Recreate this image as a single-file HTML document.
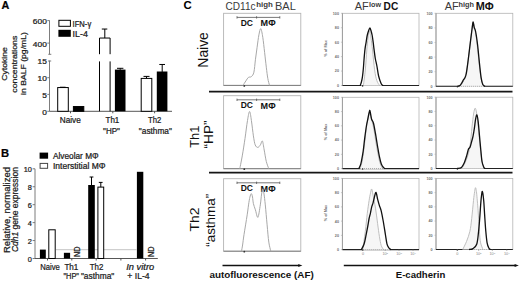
<!DOCTYPE html>
<html><head><meta charset="utf-8"><style>
html,body{margin:0;padding:0;background:#fff;width:520px;height:281px;overflow:hidden}
svg{display:block}
text{font-family:"Liberation Sans", sans-serif}
.ab text{stroke:#1a1a1a;stroke-width:0.24px}
</style></head><body>
<svg width="520" height="281" viewBox="0 0 520 281">
<rect width="520" height="281" fill="#fff"/>
<g class="ab">
<text x="1.6" y="8.9" font-size="10.8" font-weight="bold" fill="#000">A</text>
<line x1="49.5" y1="20.4" x2="49.5" y2="54.3" stroke="#6e6e6e" stroke-width="0.9"/>
<line x1="48.3" y1="54.3" x2="51.3" y2="54.3" stroke="#6e6e6e" stroke-width="0.9"/>
<line x1="47.3" y1="20.6" x2="49.5" y2="20.6" stroke="#6e6e6e" stroke-width="0.9"/>
<line x1="47.3" y1="43.1" x2="49.5" y2="43.1" stroke="#6e6e6e" stroke-width="0.9"/>
<line x1="49.5" y1="60.6" x2="49.5" y2="111.3" stroke="#6e6e6e" stroke-width="0.9"/>
<line x1="48" y1="61" x2="51.2" y2="61" stroke="#6e6e6e" stroke-width="0.9"/>
<line x1="47.3" y1="77.7" x2="49.5" y2="77.7" stroke="#6e6e6e" stroke-width="0.9"/>
<line x1="47.3" y1="94.4" x2="49.5" y2="94.4" stroke="#6e6e6e" stroke-width="0.9"/>
<line x1="47.3" y1="111.3" x2="49.5" y2="111.3" stroke="#6e6e6e" stroke-width="0.9"/>
<text x="46.8" y="24.0" font-size="7.8" text-anchor="end" fill="#222" textLength="13.950000000000001" lengthAdjust="spacingAndGlyphs">600</text>
<text x="46.8" y="46.699999999999996" font-size="7.8" text-anchor="end" fill="#222" textLength="13.950000000000001" lengthAdjust="spacingAndGlyphs">400</text>
<text x="46.8" y="64.4" font-size="7.8" text-anchor="end" fill="#222" textLength="9.3" lengthAdjust="spacingAndGlyphs">15</text>
<text x="46.8" y="81.10000000000001" font-size="7.8" text-anchor="end" fill="#222" textLength="9.3" lengthAdjust="spacingAndGlyphs">10</text>
<text x="46.8" y="97.80000000000001" font-size="7.8" text-anchor="end" fill="#222" textLength="4.65" lengthAdjust="spacingAndGlyphs">5</text>
<text x="46.8" y="114.7" font-size="7.8" text-anchor="end" fill="#222" textLength="4.65" lengthAdjust="spacingAndGlyphs">0</text>
<text transform="translate(7.3,64) rotate(-90)" x="0" y="0" font-size="8.0" text-anchor="middle" fill="#222" textLength="33.5" lengthAdjust="spacingAndGlyphs">Cytokine</text>
<text transform="translate(16.8,64.2) rotate(-90)" x="0" y="0" font-size="8.0" text-anchor="middle" fill="#222" textLength="57" lengthAdjust="spacingAndGlyphs">concentrations</text>
<text transform="translate(26.3,63.5) rotate(-90)" x="0" y="0" font-size="8.0" text-anchor="middle" fill="#222" textLength="62.8" lengthAdjust="spacingAndGlyphs">in BALF (pg/mL)</text>
<line x1="49.5" y1="111.3" x2="172" y2="111.3" stroke="#444" stroke-width="0.9"/>
<line x1="70.5" y1="111.3" x2="70.5" y2="113.3" stroke="#444" stroke-width="0.9"/>
<line x1="112.8" y1="111.3" x2="112.8" y2="113.3" stroke="#444" stroke-width="0.9"/>
<line x1="154.6" y1="111.3" x2="154.6" y2="113.3" stroke="#444" stroke-width="0.9"/>
<rect x="57.7" y="87.549" width="10.6" height="23.75099999999999" fill="#fff" stroke="#000" stroke-width="1"/>
<line x1="60" y1="87.24900000000001" x2="65.6" y2="87.24900000000001" stroke="#000" stroke-width="1"/>
<rect x="73.4" y="106.5498" width="10.4" height="4.750199999999992" fill="#000" stroke="#000" stroke-width="1"/>
<path d="M99.5,54.2 L99.5,38.0375 L110.1,38.0375 L110.1,54.2 M99.5,61.4 L99.5,111.3 M110.1,61.4 L110.1,111.3" fill="none" stroke="#000" stroke-width="1"/>
<line x1="104.8" y1="29.0375" x2="104.8" y2="38.0375" stroke="#000" stroke-width="1"/>
<line x1="101.8" y1="29.0375" x2="107.3" y2="29.0375" stroke="#000" stroke-width="1"/>
<rect x="114.9" y="69.6" width="10.6" height="41.7" fill="#000" stroke="#000" stroke-width="0"/>
<line x1="120.2" y1="68.3" x2="120.2" y2="69.8" stroke="#000" stroke-width="1"/>
<line x1="117" y1="68.3" x2="123.4" y2="68.3" stroke="#000" stroke-width="1"/>
<rect x="141.2" y="78.4" width="10.6" height="32.89999999999999" fill="#fff" stroke="#000" stroke-width="1"/>
<line x1="146.5" y1="76.4" x2="146.5" y2="78.4" stroke="#000" stroke-width="1"/>
<line x1="143.5" y1="76.4" x2="149.5" y2="76.4" stroke="#000" stroke-width="1"/>
<rect x="156.8" y="71.5" width="10.6" height="39.8" fill="#000" stroke="#000" stroke-width="0"/>
<line x1="162.2" y1="64.47659999999999" x2="162.2" y2="71.94120000000001" stroke="#000" stroke-width="1"/>
<line x1="159.3" y1="64.47659999999999" x2="165" y2="64.47659999999999" stroke="#000" stroke-width="1"/>
<rect x="58.9" y="20.3" width="11.5" height="6.0" fill="#fff" stroke="#000" stroke-width="1"/>
<rect x="58.4" y="29.8" width="12.4" height="7.0" fill="#000" stroke="#000" stroke-width="0"/>
<text x="72.6" y="26.6" font-size="8.2" fill="#222" textLength="18.6" lengthAdjust="spacingAndGlyphs">IFN-γ</text>
<text x="72.6" y="36.5" font-size="8.2" fill="#222" textLength="15.3" lengthAdjust="spacingAndGlyphs">IL-4</text>
<text x="70.3" y="123.0" font-size="8.6" text-anchor="middle" fill="#222" textLength="21.0" lengthAdjust="spacingAndGlyphs">Naive</text>
<text x="112.4" y="123.0" font-size="8.6" text-anchor="middle" fill="#222" textLength="13.8" lengthAdjust="spacingAndGlyphs">Th1</text>
<text x="154.6" y="123.0" font-size="8.6" text-anchor="middle" fill="#222" textLength="13.2" lengthAdjust="spacingAndGlyphs">Th2</text>
<text x="111.5" y="134.3" font-size="8.6" text-anchor="middle" fill="#222" textLength="16.9" lengthAdjust="spacingAndGlyphs">"HP"</text>
<text x="155.4" y="134.3" font-size="8.6" text-anchor="middle" fill="#222" textLength="33.1" lengthAdjust="spacingAndGlyphs">"asthma"</text>
<text x="1.0" y="156.8" font-size="11.2" font-weight="bold" fill="#000">B</text>
<line x1="35.0" y1="168.8" x2="35.0" y2="258.5" stroke="#6e6e6e" stroke-width="0.9"/>
<line x1="32.6" y1="168.8" x2="35.0" y2="168.8" stroke="#6e6e6e" stroke-width="0.9"/>
<text x="31.9" y="172.3" font-size="7.8" text-anchor="end" fill="#222" textLength="8.2" lengthAdjust="spacingAndGlyphs">10</text>
<line x1="32.6" y1="186.74" x2="35.0" y2="186.74" stroke="#6e6e6e" stroke-width="0.9"/>
<text x="31.9" y="190.24" font-size="7.8" text-anchor="end" fill="#222" textLength="4.1" lengthAdjust="spacingAndGlyphs">8</text>
<line x1="32.6" y1="204.68" x2="35.0" y2="204.68" stroke="#6e6e6e" stroke-width="0.9"/>
<text x="31.9" y="208.18" font-size="7.8" text-anchor="end" fill="#222" textLength="4.1" lengthAdjust="spacingAndGlyphs">6</text>
<line x1="32.6" y1="222.62" x2="35.0" y2="222.62" stroke="#6e6e6e" stroke-width="0.9"/>
<text x="31.9" y="226.12" font-size="7.8" text-anchor="end" fill="#222" textLength="4.1" lengthAdjust="spacingAndGlyphs">4</text>
<line x1="32.6" y1="240.56" x2="35.0" y2="240.56" stroke="#6e6e6e" stroke-width="0.9"/>
<text x="31.9" y="244.06" font-size="7.8" text-anchor="end" fill="#222" textLength="4.1" lengthAdjust="spacingAndGlyphs">2</text>
<line x1="32.6" y1="258.5" x2="35.0" y2="258.5" stroke="#6e6e6e" stroke-width="0.9"/>
<text x="31.9" y="262.0" font-size="7.8" text-anchor="end" fill="#222" textLength="4.1" lengthAdjust="spacingAndGlyphs">0</text>
<line x1="35.0" y1="258.5" x2="157.8" y2="258.5" stroke="#444" stroke-width="0.9"/>
<line x1="47.5" y1="258.5" x2="47.5" y2="260.5" stroke="#444" stroke-width="0.9"/>
<line x1="71.8" y1="258.5" x2="71.8" y2="260.5" stroke="#444" stroke-width="0.9"/>
<line x1="96.2" y1="258.5" x2="96.2" y2="260.5" stroke="#444" stroke-width="0.9"/>
<line x1="120.9" y1="258.5" x2="120.9" y2="260.5" stroke="#444" stroke-width="0.9"/>
<line x1="145.6" y1="258.5" x2="145.6" y2="260.5" stroke="#444" stroke-width="0.9"/>
<line x1="56" y1="249.7" x2="136.5" y2="249.7" stroke="#c4c4c4" stroke-width="1"/>
<rect x="39.9" y="249.6" width="5.9" height="8.900000000000006" fill="#000" stroke="#000" stroke-width="0"/>
<rect x="48.8" y="229.796" width="6.4" height="28.704000000000008" fill="#fff" stroke="#000" stroke-width="1"/>
<rect x="63.9" y="252.8" width="6.2" height="5.699999999999989" fill="#000" stroke="#000" stroke-width="0"/>
<rect x="88.2" y="185" width="6.6" height="73.5" fill="#000" stroke="#000" stroke-width="0"/>
<line x1="91.5" y1="177" x2="91.5" y2="185" stroke="#000" stroke-width="1"/>
<line x1="89.6" y1="177" x2="93.4" y2="177" stroke="#000" stroke-width="1"/>
<rect x="97.9" y="187.1" width="5.8" height="71.4" fill="#fff" stroke="#000" stroke-width="1"/>
<line x1="100.8" y1="182.4" x2="100.8" y2="187.1" stroke="#000" stroke-width="1"/>
<line x1="98.8" y1="182.4" x2="102.6" y2="182.4" stroke="#000" stroke-width="1"/>
<rect x="136.9" y="171.8" width="6.4" height="86.69999999999999" fill="#000" stroke="#000" stroke-width="0"/>
<text transform="translate(80.4,251.8) rotate(-90)" x="0" y="0" font-size="8.2" text-anchor="middle" fill="#222" textLength="10.5" lengthAdjust="spacingAndGlyphs">ND</text>
<text transform="translate(153.6,251.8) rotate(-90)" x="0" y="0" font-size="8.2" text-anchor="middle" fill="#222" textLength="10.5" lengthAdjust="spacingAndGlyphs">ND</text>
<rect x="39.6" y="152.6" width="8.5" height="6.1" fill="#000" stroke="#000" stroke-width="0"/>
<rect x="40.1" y="163.4" width="7.5" height="4.9" fill="#fff" stroke="#444" stroke-width="1"/>
<text x="53.0" y="158.8" font-size="8.3" fill="#222" textLength="45.6" lengthAdjust="spacingAndGlyphs">Alveolar MΦ</text>
<text x="53.0" y="168.7" font-size="8.3" fill="#222" textLength="52.6" lengthAdjust="spacingAndGlyphs">Interstitial MΦ</text>
<text transform="translate(9.7,210) rotate(-90)" x="0" y="0" font-size="8.7" text-anchor="middle" fill="#222" textLength="86" lengthAdjust="spacingAndGlyphs">Relative, normalized</text>
<text transform="translate(18.3,209.6) rotate(-90)" x="0" y="0" font-size="8.7" text-anchor="middle" fill="#222" textLength="85" lengthAdjust="spacingAndGlyphs"><tspan font-style="italic">Cdh1</tspan> gene expression</text>
<text x="50.1" y="269.8" font-size="8.6" text-anchor="middle" fill="#222" textLength="19.6" lengthAdjust="spacingAndGlyphs">Naive</text>
<text x="71.4" y="269.8" font-size="8.6" text-anchor="middle" fill="#222" textLength="13.9" lengthAdjust="spacingAndGlyphs">Th1</text>
<text x="96.5" y="269.8" font-size="8.6" text-anchor="middle" fill="#222" textLength="13.6" lengthAdjust="spacingAndGlyphs">Th2</text>
<text x="71.2" y="278.6" font-size="8.6" text-anchor="middle" fill="#222" textLength="15.6" lengthAdjust="spacingAndGlyphs">"HP"</text>
<text x="97.6" y="278.6" font-size="8.6" text-anchor="middle" fill="#222" textLength="33.4" lengthAdjust="spacingAndGlyphs">"asthma"</text>
<text x="140.2" y="269.8" font-size="8.6" text-anchor="middle" font-style="italic" fill="#222" textLength="27.9" lengthAdjust="spacingAndGlyphs">In vitro</text>
<text x="138.5" y="278.6" font-size="8.6" text-anchor="middle" fill="#222" textLength="22.3" lengthAdjust="spacingAndGlyphs">+ IL-4</text>
</g>
<text x="183.6" y="9.2" font-size="11.4" font-weight="bold" fill="#000">C</text>
<text x="225.5" y="10.1" font-size="10.7" fill="#3a3a3a" textLength="30.0" lengthAdjust="spacingAndGlyphs">CD11c</text>
<text x="256.2" y="6.9" font-size="7" font-weight="bold" fill="#3a3a3a" textLength="16.6" lengthAdjust="spacingAndGlyphs">high</text>
<text x="275.0" y="10.1" font-size="10.7" fill="#3a3a3a" textLength="20.8" lengthAdjust="spacingAndGlyphs">BAL</text>
<text x="354.8" y="10.1" font-size="10.7" fill="#3a3a3a" textLength="14" lengthAdjust="spacingAndGlyphs">AF</text>
<text x="369.0" y="6.9" font-size="7" font-weight="bold" fill="#3a3a3a" textLength="12" lengthAdjust="spacingAndGlyphs">low</text>
<text x="383.6" y="10.1" font-size="10.7" font-weight="bold" fill="#111" textLength="14.6" lengthAdjust="spacingAndGlyphs">DC</text>
<text x="444.7" y="10.1" font-size="10.7" fill="#3a3a3a" textLength="14" lengthAdjust="spacingAndGlyphs">AF</text>
<text x="458.6" y="6.9" font-size="7" font-weight="bold" fill="#3a3a3a" textLength="15.4" lengthAdjust="spacingAndGlyphs">high</text>
<text x="475.8" y="10.1" font-size="10.7" font-weight="bold" fill="#111" textLength="18" lengthAdjust="spacingAndGlyphs">MΦ</text>
<text transform="translate(208.3,49.9) rotate(-90)" x="0" y="0" font-size="14" text-anchor="middle" fill="#111" textLength="35.5" lengthAdjust="spacingAndGlyphs">Naive</text>
<text transform="translate(198.6,136.7) rotate(-90)" x="0" y="0" font-size="13" text-anchor="middle" fill="#111" textLength="22.1" lengthAdjust="spacingAndGlyphs">Th1</text>
<text transform="translate(213.0,134.5) rotate(-90)" x="0" y="0" font-size="13" text-anchor="middle" fill="#111" textLength="28" lengthAdjust="spacingAndGlyphs">“HP”</text>
<text transform="translate(199.3,219.4) rotate(-90)" x="0" y="0" font-size="13" text-anchor="middle" fill="#111" textLength="24.0" lengthAdjust="spacingAndGlyphs">Th2</text>
<text transform="translate(215.0,220.3) rotate(-90)" x="0" y="0" font-size="13" text-anchor="middle" fill="#111" textLength="53" lengthAdjust="spacingAndGlyphs">“asthma”</text>
<line x1="209" y1="91.6" x2="512.5" y2="91.6" stroke="#161616" stroke-width="1.6"/>
<line x1="209" y1="172.6" x2="512.5" y2="172.6" stroke="#161616" stroke-width="1.6"/>
<rect x="223.6" y="13.3" width="77.2" height="72.10000000000001" fill="none" stroke="#b4b4b4" stroke-width="0.9"/>
<line x1="223.6" y1="85.4" x2="300.8" y2="85.4" stroke="#777" stroke-width="0.9"/>
<circle cx="244.3" cy="85.9" r="0.9" fill="#333"/>
<line x1="237" y1="17.4" x2="279.8" y2="17.4" stroke="#555" stroke-width="0.8"/>
<line x1="237" y1="16.2" x2="237" y2="18.599999999999998" stroke="#555" stroke-width="0.8"/>
<line x1="256.6" y1="16.2" x2="256.6" y2="18.599999999999998" stroke="#555" stroke-width="0.8"/>
<line x1="279.8" y1="16.2" x2="279.8" y2="18.599999999999998" stroke="#555" stroke-width="0.8"/>
<text x="240.7" y="26.0" font-size="8.3" font-weight="bold" fill="#111" textLength="12.3" lengthAdjust="spacingAndGlyphs">DC</text>
<text x="260.6" y="26.099999999999998" font-size="8.3" font-weight="bold" fill="#111" textLength="15" lengthAdjust="spacingAndGlyphs">MΦ</text>
<rect x="223.6" y="95.7" width="77.2" height="72.99999999999999" fill="none" stroke="#b4b4b4" stroke-width="0.9"/>
<line x1="223.6" y1="168.7" x2="300.8" y2="168.7" stroke="#777" stroke-width="0.9"/>
<circle cx="244.3" cy="169.2" r="0.9" fill="#333"/>
<line x1="237" y1="99.8" x2="279.8" y2="99.8" stroke="#555" stroke-width="0.8"/>
<line x1="237" y1="98.6" x2="237" y2="101.0" stroke="#555" stroke-width="0.8"/>
<line x1="256.6" y1="98.6" x2="256.6" y2="101.0" stroke="#555" stroke-width="0.8"/>
<line x1="279.8" y1="98.6" x2="279.8" y2="101.0" stroke="#555" stroke-width="0.8"/>
<text x="240.7" y="108.39999999999999" font-size="8.3" font-weight="bold" fill="#111" textLength="12.3" lengthAdjust="spacingAndGlyphs">DC</text>
<text x="260.6" y="108.5" font-size="8.3" font-weight="bold" fill="#111" textLength="15" lengthAdjust="spacingAndGlyphs">MΦ</text>
<rect x="223.6" y="178.7" width="77.2" height="72.5" fill="none" stroke="#b4b4b4" stroke-width="0.9"/>
<line x1="223.6" y1="251.2" x2="300.8" y2="251.2" stroke="#777" stroke-width="0.9"/>
<circle cx="244.3" cy="251.7" r="0.9" fill="#333"/>
<line x1="237" y1="182.79999999999998" x2="279.8" y2="182.79999999999998" stroke="#555" stroke-width="0.8"/>
<line x1="237" y1="181.6" x2="237" y2="183.99999999999997" stroke="#555" stroke-width="0.8"/>
<line x1="256.6" y1="181.6" x2="256.6" y2="183.99999999999997" stroke="#555" stroke-width="0.8"/>
<line x1="279.8" y1="181.6" x2="279.8" y2="183.99999999999997" stroke="#555" stroke-width="0.8"/>
<text x="240.7" y="191.39999999999998" font-size="8.3" font-weight="bold" fill="#111" textLength="12.3" lengthAdjust="spacingAndGlyphs">DC</text>
<text x="260.6" y="191.49999999999997" font-size="8.3" font-weight="bold" fill="#111" textLength="15" lengthAdjust="spacingAndGlyphs">MΦ</text>
<path d="M243.00,85.40 C243.48,84.65 245.00,82.23 245.90,80.90 C246.80,79.57 247.48,78.12 248.40,77.40 C249.32,76.68 250.48,77.47 251.40,76.60 C252.32,75.73 253.23,75.00 253.90,72.20 C254.57,69.40 254.87,63.95 255.40,59.80 C255.93,55.65 256.52,51.45 257.10,47.30 C257.68,43.15 258.28,38.00 258.90,34.90 C259.52,31.80 260.15,28.28 260.80,28.70 C261.45,29.12 262.17,33.47 262.80,37.40 C263.43,41.33 264.02,47.33 264.60,52.30 C265.18,57.27 265.77,62.85 266.30,67.20 C266.83,71.55 267.27,75.37 267.80,78.40 C268.33,81.43 269.22,84.23 269.50,85.40" fill="none" stroke="#a8a8a8" stroke-width="1" stroke-linejoin="round"/>
<path d="M239.80,168.70 C240.23,166.43 241.53,160.13 242.40,155.10 C243.27,150.07 244.15,144.27 245.00,138.50 C245.85,132.73 246.73,125.00 247.50,120.50 C248.27,116.00 248.95,111.50 249.60,111.50 C250.25,111.50 250.77,116.43 251.40,120.50 C252.03,124.57 252.77,131.83 253.40,135.90 C254.03,139.97 254.47,142.98 255.20,144.90 C255.93,146.82 256.93,147.40 257.80,147.40 C258.67,147.40 259.63,145.97 260.40,144.90 C261.17,143.83 261.77,140.15 262.40,141.00 C263.03,141.85 263.55,146.58 264.20,150.00 C264.85,153.42 265.53,158.38 266.30,161.50 C267.07,164.62 268.38,167.50 268.80,168.70" fill="none" stroke="#a8a8a8" stroke-width="1" stroke-linejoin="round"/>
<path d="M241.50,251.20 C241.68,250.17 242.18,247.75 242.60,245.00 C243.02,242.25 243.23,239.73 244.00,234.70 C244.77,229.67 246.38,220.18 247.20,214.80 C248.02,209.42 248.40,205.53 248.90,202.40 C249.40,199.27 249.78,197.45 250.20,196.00 C250.62,194.55 251.02,193.53 251.40,193.70 C251.78,193.87 252.17,195.35 252.50,197.00 C252.83,198.65 252.92,201.47 253.40,203.60 C253.88,205.73 254.65,207.52 255.40,209.80 C256.15,212.08 257.08,218.12 257.90,217.30 C258.72,216.48 259.68,208.78 260.30,204.90 C260.92,201.02 261.18,196.65 261.60,194.00 C262.02,191.35 262.40,189.00 262.80,189.00 C263.20,189.00 263.58,191.35 264.00,194.00 C264.42,196.65 264.78,199.77 265.30,204.90 C265.82,210.03 266.52,218.60 267.10,224.80 C267.68,231.00 268.18,237.70 268.80,242.10 C269.42,246.50 270.47,249.68 270.80,251.20" fill="none" stroke="#a8a8a8" stroke-width="1" stroke-linejoin="round"/>
<line x1="222.5" y1="265.5" x2="299" y2="265.5" stroke="#111" stroke-width="1.3"/>
<path d="M298.3,263.9 L302.4,265.5 L298.3,267.1 Z" fill="#111"/>
<text x="261.6" y="277.6" font-size="9.4" text-anchor="middle" font-weight="bold" fill="#111" textLength="104.3" lengthAdjust="spacingAndGlyphs">autofluorescence (AF)</text>
<rect x="342.4" y="13.3" width="76.60000000000002" height="72.2" fill="none" stroke="#b4b4b4" stroke-width="0.8"/>
<line x1="342.4" y1="13.3" x2="342.4" y2="85.5" stroke="#999" stroke-width="0.9"/>
<line x1="342.4" y1="85.5" x2="419" y2="85.5" stroke="#222" stroke-width="1.1"/>
<line x1="340.9" y1="13.3" x2="342.4" y2="13.3" stroke="#aaa" stroke-width="0.6"/>
<text x="339.0" y="14.700000000000001" font-size="4.2" text-anchor="end" font-weight="bold" fill="#707070" textLength="6.209999999999999" lengthAdjust="spacingAndGlyphs">100</text>
<line x1="340.9" y1="27.740000000000002" x2="342.4" y2="27.740000000000002" stroke="#aaa" stroke-width="0.6"/>
<text x="339.0" y="29.14" font-size="4.2" text-anchor="end" font-weight="bold" fill="#707070" textLength="4.14" lengthAdjust="spacingAndGlyphs">80</text>
<line x1="340.9" y1="42.18000000000001" x2="342.4" y2="42.18000000000001" stroke="#aaa" stroke-width="0.6"/>
<text x="339.0" y="43.580000000000005" font-size="4.2" text-anchor="end" font-weight="bold" fill="#707070" textLength="4.14" lengthAdjust="spacingAndGlyphs">60</text>
<line x1="340.9" y1="56.620000000000005" x2="342.4" y2="56.620000000000005" stroke="#aaa" stroke-width="0.6"/>
<text x="339.0" y="58.02" font-size="4.2" text-anchor="end" font-weight="bold" fill="#707070" textLength="4.14" lengthAdjust="spacingAndGlyphs">40</text>
<line x1="340.9" y1="71.06" x2="342.4" y2="71.06" stroke="#aaa" stroke-width="0.6"/>
<text x="339.0" y="72.46000000000001" font-size="4.2" text-anchor="end" font-weight="bold" fill="#707070" textLength="4.14" lengthAdjust="spacingAndGlyphs">20</text>
<line x1="340.9" y1="85.5" x2="342.4" y2="85.5" stroke="#aaa" stroke-width="0.6"/>
<text x="339.0" y="86.9" font-size="4.2" text-anchor="end" font-weight="bold" fill="#707070" textLength="2.07" lengthAdjust="spacingAndGlyphs">0</text>
<rect x="342.4" y="97.3" width="76.60000000000002" height="71.3" fill="none" stroke="#b4b4b4" stroke-width="0.8"/>
<line x1="342.4" y1="97.3" x2="342.4" y2="168.6" stroke="#999" stroke-width="0.9"/>
<line x1="342.4" y1="168.6" x2="419" y2="168.6" stroke="#222" stroke-width="1.1"/>
<line x1="340.9" y1="97.3" x2="342.4" y2="97.3" stroke="#aaa" stroke-width="0.6"/>
<text x="339.0" y="98.7" font-size="4.2" text-anchor="end" font-weight="bold" fill="#707070" textLength="6.209999999999999" lengthAdjust="spacingAndGlyphs">100</text>
<line x1="340.9" y1="111.56" x2="342.4" y2="111.56" stroke="#aaa" stroke-width="0.6"/>
<text x="339.0" y="112.96000000000001" font-size="4.2" text-anchor="end" font-weight="bold" fill="#707070" textLength="4.14" lengthAdjust="spacingAndGlyphs">80</text>
<line x1="340.9" y1="125.82" x2="342.4" y2="125.82" stroke="#aaa" stroke-width="0.6"/>
<text x="339.0" y="127.22" font-size="4.2" text-anchor="end" font-weight="bold" fill="#707070" textLength="4.14" lengthAdjust="spacingAndGlyphs">60</text>
<line x1="340.9" y1="140.07999999999998" x2="342.4" y2="140.07999999999998" stroke="#aaa" stroke-width="0.6"/>
<text x="339.0" y="141.48" font-size="4.2" text-anchor="end" font-weight="bold" fill="#707070" textLength="4.14" lengthAdjust="spacingAndGlyphs">40</text>
<line x1="340.9" y1="154.34" x2="342.4" y2="154.34" stroke="#aaa" stroke-width="0.6"/>
<text x="339.0" y="155.74" font-size="4.2" text-anchor="end" font-weight="bold" fill="#707070" textLength="4.14" lengthAdjust="spacingAndGlyphs">20</text>
<line x1="340.9" y1="168.6" x2="342.4" y2="168.6" stroke="#aaa" stroke-width="0.6"/>
<text x="339.0" y="170.0" font-size="4.2" text-anchor="end" font-weight="bold" fill="#707070" textLength="2.07" lengthAdjust="spacingAndGlyphs">0</text>
<rect x="342.4" y="178.4" width="76.60000000000002" height="71.19999999999999" fill="none" stroke="#b4b4b4" stroke-width="0.8"/>
<line x1="342.4" y1="178.4" x2="342.4" y2="249.6" stroke="#999" stroke-width="0.9"/>
<line x1="342.4" y1="249.6" x2="419" y2="249.6" stroke="#222" stroke-width="1.1"/>
<line x1="340.9" y1="178.4" x2="342.4" y2="178.4" stroke="#aaa" stroke-width="0.6"/>
<text x="339.0" y="179.8" font-size="4.2" text-anchor="end" font-weight="bold" fill="#707070" textLength="6.209999999999999" lengthAdjust="spacingAndGlyphs">100</text>
<line x1="340.9" y1="192.64000000000001" x2="342.4" y2="192.64000000000001" stroke="#aaa" stroke-width="0.6"/>
<text x="339.0" y="194.04000000000002" font-size="4.2" text-anchor="end" font-weight="bold" fill="#707070" textLength="4.14" lengthAdjust="spacingAndGlyphs">80</text>
<line x1="340.9" y1="206.88" x2="342.4" y2="206.88" stroke="#aaa" stroke-width="0.6"/>
<text x="339.0" y="208.28" font-size="4.2" text-anchor="end" font-weight="bold" fill="#707070" textLength="4.14" lengthAdjust="spacingAndGlyphs">60</text>
<line x1="340.9" y1="221.12" x2="342.4" y2="221.12" stroke="#aaa" stroke-width="0.6"/>
<text x="339.0" y="222.52" font-size="4.2" text-anchor="end" font-weight="bold" fill="#707070" textLength="4.14" lengthAdjust="spacingAndGlyphs">40</text>
<line x1="340.9" y1="235.36" x2="342.4" y2="235.36" stroke="#aaa" stroke-width="0.6"/>
<text x="339.0" y="236.76000000000002" font-size="4.2" text-anchor="end" font-weight="bold" fill="#707070" textLength="4.14" lengthAdjust="spacingAndGlyphs">20</text>
<line x1="340.9" y1="249.6" x2="342.4" y2="249.6" stroke="#aaa" stroke-width="0.6"/>
<text x="339.0" y="251.0" font-size="4.2" text-anchor="end" font-weight="bold" fill="#707070" textLength="2.07" lengthAdjust="spacingAndGlyphs">0</text>
<rect x="436.0" y="13.3" width="76.79999999999995" height="73.0" fill="none" stroke="#b4b4b4" stroke-width="0.8"/>
<line x1="436.0" y1="13.3" x2="436.0" y2="86.3" stroke="#999" stroke-width="0.9"/>
<line x1="436.0" y1="86.3" x2="512.8" y2="86.3" stroke="#222" stroke-width="1.1"/>
<line x1="434.5" y1="13.3" x2="436.0" y2="13.3" stroke="#aaa" stroke-width="0.6"/>
<text x="432.6" y="14.700000000000001" font-size="4.2" text-anchor="end" font-weight="bold" fill="#707070" textLength="6.209999999999999" lengthAdjust="spacingAndGlyphs">100</text>
<line x1="434.5" y1="27.9" x2="436.0" y2="27.9" stroke="#aaa" stroke-width="0.6"/>
<text x="432.6" y="29.299999999999997" font-size="4.2" text-anchor="end" font-weight="bold" fill="#707070" textLength="4.14" lengthAdjust="spacingAndGlyphs">80</text>
<line x1="434.5" y1="42.5" x2="436.0" y2="42.5" stroke="#aaa" stroke-width="0.6"/>
<text x="432.6" y="43.9" font-size="4.2" text-anchor="end" font-weight="bold" fill="#707070" textLength="4.14" lengthAdjust="spacingAndGlyphs">60</text>
<line x1="434.5" y1="57.099999999999994" x2="436.0" y2="57.099999999999994" stroke="#aaa" stroke-width="0.6"/>
<text x="432.6" y="58.49999999999999" font-size="4.2" text-anchor="end" font-weight="bold" fill="#707070" textLength="4.14" lengthAdjust="spacingAndGlyphs">40</text>
<line x1="434.5" y1="71.7" x2="436.0" y2="71.7" stroke="#aaa" stroke-width="0.6"/>
<text x="432.6" y="73.10000000000001" font-size="4.2" text-anchor="end" font-weight="bold" fill="#707070" textLength="4.14" lengthAdjust="spacingAndGlyphs">20</text>
<line x1="434.5" y1="86.3" x2="436.0" y2="86.3" stroke="#aaa" stroke-width="0.6"/>
<text x="432.6" y="87.7" font-size="4.2" text-anchor="end" font-weight="bold" fill="#707070" textLength="2.07" lengthAdjust="spacingAndGlyphs">0</text>
<rect x="436.0" y="97.2" width="76.79999999999995" height="71.3" fill="none" stroke="#b4b4b4" stroke-width="0.8"/>
<line x1="436.0" y1="97.2" x2="436.0" y2="168.5" stroke="#999" stroke-width="0.9"/>
<line x1="436.0" y1="168.5" x2="512.8" y2="168.5" stroke="#222" stroke-width="1.1"/>
<line x1="434.5" y1="97.2" x2="436.0" y2="97.2" stroke="#aaa" stroke-width="0.6"/>
<text x="432.6" y="98.60000000000001" font-size="4.2" text-anchor="end" font-weight="bold" fill="#707070" textLength="6.209999999999999" lengthAdjust="spacingAndGlyphs">100</text>
<line x1="434.5" y1="111.46000000000001" x2="436.0" y2="111.46000000000001" stroke="#aaa" stroke-width="0.6"/>
<text x="432.6" y="112.86000000000001" font-size="4.2" text-anchor="end" font-weight="bold" fill="#707070" textLength="4.14" lengthAdjust="spacingAndGlyphs">80</text>
<line x1="434.5" y1="125.72" x2="436.0" y2="125.72" stroke="#aaa" stroke-width="0.6"/>
<text x="432.6" y="127.12" font-size="4.2" text-anchor="end" font-weight="bold" fill="#707070" textLength="4.14" lengthAdjust="spacingAndGlyphs">60</text>
<line x1="434.5" y1="139.98" x2="436.0" y2="139.98" stroke="#aaa" stroke-width="0.6"/>
<text x="432.6" y="141.38" font-size="4.2" text-anchor="end" font-weight="bold" fill="#707070" textLength="4.14" lengthAdjust="spacingAndGlyphs">40</text>
<line x1="434.5" y1="154.24" x2="436.0" y2="154.24" stroke="#aaa" stroke-width="0.6"/>
<text x="432.6" y="155.64000000000001" font-size="4.2" text-anchor="end" font-weight="bold" fill="#707070" textLength="4.14" lengthAdjust="spacingAndGlyphs">20</text>
<line x1="434.5" y1="168.5" x2="436.0" y2="168.5" stroke="#aaa" stroke-width="0.6"/>
<text x="432.6" y="169.9" font-size="4.2" text-anchor="end" font-weight="bold" fill="#707070" textLength="2.07" lengthAdjust="spacingAndGlyphs">0</text>
<rect x="436.0" y="178.4" width="76.79999999999995" height="71.1" fill="none" stroke="#b4b4b4" stroke-width="0.8"/>
<line x1="436.0" y1="178.4" x2="436.0" y2="249.5" stroke="#999" stroke-width="0.9"/>
<line x1="436.0" y1="249.5" x2="512.8" y2="249.5" stroke="#222" stroke-width="1.1"/>
<line x1="434.5" y1="178.4" x2="436.0" y2="178.4" stroke="#aaa" stroke-width="0.6"/>
<text x="432.6" y="179.8" font-size="4.2" text-anchor="end" font-weight="bold" fill="#707070" textLength="6.209999999999999" lengthAdjust="spacingAndGlyphs">100</text>
<line x1="434.5" y1="192.62" x2="436.0" y2="192.62" stroke="#aaa" stroke-width="0.6"/>
<text x="432.6" y="194.02" font-size="4.2" text-anchor="end" font-weight="bold" fill="#707070" textLength="4.14" lengthAdjust="spacingAndGlyphs">80</text>
<line x1="434.5" y1="206.84" x2="436.0" y2="206.84" stroke="#aaa" stroke-width="0.6"/>
<text x="432.6" y="208.24" font-size="4.2" text-anchor="end" font-weight="bold" fill="#707070" textLength="4.14" lengthAdjust="spacingAndGlyphs">60</text>
<line x1="434.5" y1="221.06" x2="436.0" y2="221.06" stroke="#aaa" stroke-width="0.6"/>
<text x="432.6" y="222.46" font-size="4.2" text-anchor="end" font-weight="bold" fill="#707070" textLength="4.14" lengthAdjust="spacingAndGlyphs">40</text>
<line x1="434.5" y1="235.28" x2="436.0" y2="235.28" stroke="#aaa" stroke-width="0.6"/>
<text x="432.6" y="236.68" font-size="4.2" text-anchor="end" font-weight="bold" fill="#707070" textLength="4.14" lengthAdjust="spacingAndGlyphs">20</text>
<line x1="434.5" y1="249.5" x2="436.0" y2="249.5" stroke="#aaa" stroke-width="0.6"/>
<text x="432.6" y="250.9" font-size="4.2" text-anchor="end" font-weight="bold" fill="#707070" textLength="2.07" lengthAdjust="spacingAndGlyphs">0</text>
<text transform="translate(327.4,48.4) rotate(-90)" x="0" y="0" font-size="3.8" text-anchor="middle" font-weight="bold" fill="#707070">% of Max</text>
<text transform="translate(327.4,131.95) rotate(-90)" x="0" y="0" font-size="3.8" text-anchor="middle" font-weight="bold" fill="#707070">% of Max</text>
<text transform="translate(327.4,213.0) rotate(-90)" x="0" y="0" font-size="3.8" text-anchor="middle" font-weight="bold" fill="#707070">% of Max</text>
<line x1="361.4" y1="85.5" x2="381.8" y2="85.5" stroke="#fff" stroke-width="1.4"/>
<path d="M363.40,85.50 C363.72,82.92 364.73,75.92 365.30,70.00 C365.87,64.08 366.35,55.33 366.80,50.00 C367.25,44.67 367.57,41.13 368.00,38.00 C368.43,34.87 368.90,31.20 369.40,31.20 C369.90,31.20 370.48,34.87 371.00,38.00 C371.52,41.13 371.90,44.70 372.50,50.00 C373.10,55.30 373.88,64.72 374.60,69.80 C375.32,74.88 375.97,77.88 376.80,80.50 C377.63,83.12 379.13,84.67 379.60,85.50" fill="#f6f6f6" stroke="#b8b8b8" stroke-width="0.9" stroke-linejoin="round"/>
<line x1="361.4" y1="85.5" x2="381.8" y2="85.5" stroke="#999" stroke-width="0.9" stroke-dasharray="1.2,0.8"/>
<circle cx="362.6" cy="85.9" r="0.8" fill="#333"/>
<path d="M360.20,85.50 C360.40,84.92 361.03,83.38 361.40,82.00 C361.77,80.62 362.07,79.53 362.40,77.20 C362.73,74.87 363.12,71.12 363.40,68.00 C363.68,64.88 363.83,61.65 364.10,58.50 C364.37,55.35 364.67,51.80 365.00,49.10 C365.33,46.40 365.73,44.57 366.10,42.30 C366.47,40.03 366.80,37.38 367.20,35.50 C367.60,33.62 368.05,32.25 368.50,31.00 C368.95,29.75 369.45,27.92 369.90,28.00 C370.35,28.08 370.82,30.25 371.20,31.50 C371.58,32.75 371.87,33.70 372.20,35.50 C372.53,37.30 372.90,40.03 373.20,42.30 C373.50,44.57 373.65,46.40 374.00,49.10 C374.35,51.80 374.82,55.68 375.30,58.50 C375.78,61.32 376.35,63.08 376.90,66.00 C377.45,68.92 377.90,73.10 378.60,76.00 C379.30,78.90 380.37,81.82 381.10,83.40 C381.83,84.98 382.68,85.15 383.00,85.50" fill="none" stroke="#111" stroke-width="1.3" stroke-linejoin="round"/>
<line x1="458.7" y1="86.3" x2="483.8" y2="86.3" stroke="#fff" stroke-width="1.4"/>
<path d="M459.50,86.30 C460.17,85.42 462.33,83.55 463.50,81.00 C464.67,78.45 465.62,75.33 466.50,71.00 C467.38,66.67 468.08,60.50 468.80,55.00 C469.52,49.50 470.13,43.25 470.80,38.00 C471.47,32.75 472.17,25.17 472.80,23.50 C473.43,21.83 473.97,25.25 474.60,28.00 C475.23,30.75 475.90,34.67 476.60,40.00 C477.30,45.33 478.10,53.83 478.80,60.00 C479.50,66.17 480.00,72.62 480.80,77.00 C481.60,81.38 483.13,84.75 483.60,86.30" fill="#f6f6f6" stroke="#b8b8b8" stroke-width="0.9" stroke-linejoin="round"/>
<line x1="458.7" y1="86.3" x2="483.8" y2="86.3" stroke="#999" stroke-width="0.9" stroke-dasharray="1.2,0.8"/>
<circle cx="457.4" cy="86.7" r="0.8" fill="#333"/>
<path d="M457.50,86.30 C457.92,86.17 459.25,86.12 460.00,85.50 C460.75,84.88 461.40,83.60 462.00,82.60 C462.60,81.60 463.13,80.27 463.60,79.50 C464.07,78.73 464.35,79.00 464.80,78.00 C465.25,77.00 465.73,76.50 466.30,73.50 C466.87,70.50 467.48,65.53 468.20,60.00 C468.92,54.47 469.92,45.80 470.60,40.30 C471.28,34.80 471.87,30.07 472.30,27.00 C472.73,23.93 472.88,21.82 473.20,21.90 C473.52,21.98 473.80,25.90 474.20,27.50 C474.60,29.10 475.03,28.58 475.60,31.50 C476.17,34.42 476.93,39.48 477.60,45.00 C478.27,50.52 479.00,59.07 479.60,64.60 C480.20,70.13 480.67,74.87 481.20,78.20 C481.73,81.53 482.17,83.25 482.80,84.60 C483.43,85.95 484.63,86.02 485.00,86.30" fill="none" stroke="#111" stroke-width="1.3" stroke-linejoin="round"/>
<line x1="360.0" y1="168.6" x2="383.8" y2="168.6" stroke="#fff" stroke-width="1.4"/>
<path d="M360.00,168.60 C360.33,167.50 361.37,165.10 362.00,162.00 C362.63,158.90 363.25,154.17 363.80,150.00 C364.35,145.83 364.80,141.17 365.30,137.00 C365.80,132.83 366.35,128.00 366.80,125.00 C367.25,122.00 367.58,121.08 368.00,119.00 C368.42,116.92 368.88,113.00 369.30,112.50 C369.72,112.00 370.05,114.58 370.50,116.00 C370.95,117.42 371.42,118.67 372.00,121.00 C372.58,123.33 373.33,126.33 374.00,130.00 C374.67,133.67 375.33,139.00 376.00,143.00 C376.67,147.00 377.33,150.67 378.00,154.00 C378.67,157.33 379.25,160.57 380.00,163.00 C380.75,165.43 382.08,167.67 382.50,168.60" fill="#f6f6f6" stroke="#b8b8b8" stroke-width="0.9" stroke-linejoin="round"/>
<line x1="360.0" y1="168.6" x2="383.8" y2="168.6" stroke="#999" stroke-width="0.9" stroke-dasharray="1.2,0.8"/>
<circle cx="362.6" cy="169.0" r="0.8" fill="#333"/>
<path d="M358.80,168.60 C359.05,168.08 359.87,166.72 360.30,165.50 C360.73,164.28 360.92,163.70 361.40,161.30 C361.88,158.90 362.65,154.93 363.20,151.10 C363.75,147.27 364.15,142.57 364.70,138.30 C365.25,134.03 365.98,128.68 366.50,125.50 C367.02,122.32 367.42,121.12 367.80,119.20 C368.18,117.28 368.47,115.50 368.80,114.00 C369.13,112.50 369.50,110.20 369.80,110.20 C370.10,110.20 370.30,112.50 370.60,114.00 C370.90,115.50 371.13,117.70 371.60,119.20 C372.07,120.70 372.77,120.67 373.40,123.00 C374.03,125.33 374.72,129.37 375.40,133.20 C376.08,137.03 376.85,142.17 377.50,146.00 C378.15,149.83 378.67,153.22 379.30,156.20 C379.93,159.18 380.58,161.98 381.30,163.90 C382.02,165.82 382.98,166.92 383.60,167.70 C384.22,168.48 384.77,168.45 385.00,168.60" fill="none" stroke="#111" stroke-width="1.3" stroke-linejoin="round"/>
<line x1="458.4" y1="168.5" x2="483.8" y2="168.5" stroke="#fff" stroke-width="1.4"/>
<path d="M460.00,168.50 C460.50,168.17 461.83,168.25 463.00,166.50 C464.17,164.75 465.83,161.42 467.00,158.00 C468.17,154.58 469.17,151.17 470.00,146.00 C470.83,140.83 471.40,132.33 472.00,127.00 C472.60,121.67 473.08,117.13 473.60,114.00 C474.12,110.87 474.60,108.37 475.10,108.20 C475.60,108.03 476.05,109.70 476.60,113.00 C477.15,116.30 477.78,122.17 478.40,128.00 C479.02,133.83 479.70,142.50 480.30,148.00 C480.90,153.50 481.38,157.58 482.00,161.00 C482.62,164.42 483.67,167.25 484.00,168.50" fill="#f6f6f6" stroke="#b8b8b8" stroke-width="0.9" stroke-linejoin="round"/>
<line x1="458.4" y1="168.5" x2="483.8" y2="168.5" stroke="#999" stroke-width="0.9" stroke-dasharray="1.2,0.8"/>
<circle cx="457.4" cy="168.9" r="0.8" fill="#333"/>
<path d="M457.20,168.50 C457.92,168.32 460.35,168.28 461.50,167.40 C462.65,166.52 463.23,165.17 464.10,163.20 C464.97,161.23 465.97,157.97 466.70,155.60 C467.43,153.23 467.95,150.40 468.50,149.00 C469.05,147.60 469.45,148.53 470.00,147.20 C470.55,145.87 471.28,142.88 471.80,141.00 C472.32,139.12 472.67,138.03 473.10,135.90 C473.53,133.77 473.98,130.98 474.40,128.20 C474.82,125.42 475.18,121.42 475.60,119.20 C476.02,116.98 476.47,114.47 476.90,114.90 C477.33,115.33 477.77,118.30 478.20,121.80 C478.63,125.30 479.07,131.20 479.50,135.90 C479.93,140.60 480.38,145.73 480.80,150.00 C481.22,154.27 481.50,158.62 482.00,161.50 C482.50,164.38 483.30,166.13 483.80,167.30 C484.30,168.47 484.80,168.30 485.00,168.50" fill="none" stroke="#111" stroke-width="1.3" stroke-linejoin="round"/>
<line x1="362.59999999999997" y1="249.6" x2="389.8" y2="249.6" stroke="#fff" stroke-width="1.4"/>
<path d="M362.70,249.60 C363.13,246.55 364.53,237.35 365.30,231.30 C366.07,225.25 366.67,218.43 367.30,213.30 C367.93,208.17 368.57,203.88 369.10,200.50 C369.63,197.12 370.07,194.92 370.50,193.00 C370.93,191.08 371.28,188.67 371.70,189.00 C372.12,189.33 372.37,191.80 373.00,195.00 C373.63,198.20 374.73,203.43 375.50,208.20 C376.27,212.97 376.95,218.90 377.60,223.60 C378.25,228.30 378.80,232.77 379.40,236.40 C380.00,240.03 380.52,243.20 381.20,245.40 C381.88,247.60 383.12,248.90 383.50,249.60" fill="#f6f6f6" stroke="#b8b8b8" stroke-width="0.9" stroke-linejoin="round"/>
<line x1="362.59999999999997" y1="249.6" x2="389.8" y2="249.6" stroke="#999" stroke-width="0.9" stroke-dasharray="1.2,0.8"/>
<circle cx="362.6" cy="250.0" r="0.8" fill="#333"/>
<path d="M361.40,249.60 C361.83,248.72 363.27,246.50 364.00,244.30 C364.73,242.10 365.17,239.42 365.80,236.40 C366.43,233.38 367.25,229.18 367.80,226.20 C368.35,223.22 368.67,220.65 369.10,218.50 C369.53,216.35 369.97,215.23 370.40,213.30 C370.83,211.37 371.27,208.60 371.70,206.90 C372.13,205.20 372.58,204.58 373.00,203.10 C373.42,201.62 373.70,199.80 374.20,198.00 C374.70,196.20 375.43,192.10 376.00,192.30 C376.57,192.50 377.03,196.98 377.60,199.20 C378.17,201.42 378.80,203.67 379.40,205.60 C380.00,207.53 380.57,208.23 381.20,210.80 C381.83,213.37 382.52,217.17 383.20,221.00 C383.88,224.83 384.67,229.95 385.30,233.80 C385.93,237.65 386.37,241.70 387.00,244.10 C387.63,246.50 388.43,247.28 389.10,248.20 C389.77,249.12 390.68,249.37 391.00,249.60" fill="none" stroke="#111" stroke-width="1.3" stroke-linejoin="round"/>
<line x1="470.2" y1="249.5" x2="489.3" y2="249.5" stroke="#fff" stroke-width="1.4"/>
<path d="M462.70,249.50 C463.33,248.17 465.30,244.53 466.50,241.50 C467.70,238.47 469.03,235.13 469.90,231.30 C470.77,227.47 471.10,223.63 471.70,218.50 C472.30,213.37 473.02,204.92 473.50,200.50 C473.98,196.08 474.27,194.13 474.60,192.00 C474.93,189.87 475.17,187.53 475.50,187.70 C475.83,187.87 476.17,189.15 476.60,193.00 C477.03,196.85 477.63,204.42 478.10,210.80 C478.57,217.18 478.98,225.97 479.40,231.30 C479.82,236.63 480.00,239.77 480.60,242.80 C481.20,245.83 482.60,248.38 483.00,249.50" fill="#f6f6f6" stroke="#b8b8b8" stroke-width="0.9" stroke-linejoin="round"/>
<line x1="470.2" y1="249.5" x2="489.3" y2="249.5" stroke="#999" stroke-width="0.9" stroke-dasharray="1.2,0.8"/>
<circle cx="457.4" cy="249.9" r="0.8" fill="#333"/>
<path d="M469.00,249.50 C469.67,249.35 471.70,249.52 473.00,248.60 C474.30,247.68 475.87,246.88 476.80,244.00 C477.73,241.12 478.08,235.98 478.60,231.30 C479.12,226.62 479.57,220.18 479.90,215.90 C480.23,211.62 480.35,208.80 480.60,205.60 C480.85,202.40 481.10,199.05 481.40,196.70 C481.70,194.35 482.02,190.87 482.40,191.50 C482.78,192.13 483.32,196.43 483.70,200.50 C484.08,204.57 484.35,210.77 484.70,215.90 C485.05,221.03 485.40,226.82 485.80,231.30 C486.20,235.78 486.60,240.02 487.10,242.80 C487.60,245.58 488.23,246.88 488.80,248.00 C489.37,249.12 490.22,249.25 490.50,249.50" fill="none" stroke="#111" stroke-width="1.3" stroke-linejoin="round"/>
<line x1="363" y1="249.6" x2="363" y2="251" stroke="#888" stroke-width="0.6"/>
<text x="363" y="254.9" font-size="3.8" text-anchor="middle" fill="#888">0</text>
<line x1="385.2" y1="249.6" x2="385.2" y2="251" stroke="#888" stroke-width="0.6"/>
<text x="385.2" y="254.9" font-size="3.8" text-anchor="middle" fill="#888">10<tspan font-size="2.5" dy="-1.2">2</tspan></text>
<line x1="399" y1="249.6" x2="399" y2="251" stroke="#888" stroke-width="0.6"/>
<text x="399" y="254.9" font-size="3.8" text-anchor="middle" fill="#888">10<tspan font-size="2.5" dy="-1.2">3</tspan></text>
<line x1="413" y1="249.6" x2="413" y2="251" stroke="#888" stroke-width="0.6"/>
<text x="413" y="254.9" font-size="3.8" text-anchor="middle" fill="#888">10<tspan font-size="2.5" dy="-1.2">4</tspan></text>
<line x1="457.2" y1="249.6" x2="457.2" y2="251" stroke="#888" stroke-width="0.6"/>
<text x="457.2" y="254.9" font-size="3.8" text-anchor="middle" fill="#888">0</text>
<line x1="478.7" y1="249.6" x2="478.7" y2="251" stroke="#888" stroke-width="0.6"/>
<text x="478.7" y="254.9" font-size="3.8" text-anchor="middle" fill="#888">10<tspan font-size="2.5" dy="-1.2">2</tspan></text>
<line x1="492.3" y1="249.6" x2="492.3" y2="251" stroke="#888" stroke-width="0.6"/>
<text x="492.3" y="254.9" font-size="3.8" text-anchor="middle" fill="#888">10<tspan font-size="2.5" dy="-1.2">3</tspan></text>
<line x1="506.8" y1="249.6" x2="506.8" y2="251" stroke="#888" stroke-width="0.6"/>
<text x="506.8" y="254.9" font-size="3.8" text-anchor="middle" fill="#888">10<tspan font-size="2.5" dy="-1.2">4</tspan></text>
<line x1="343.8" y1="265.5" x2="515.5" y2="265.5" stroke="#111" stroke-width="1.3"/>
<path d="M514.6,263.9 L518.8,265.5 L514.6,267.1 Z" fill="#111"/>
<text x="420.5" y="277.6" font-size="9.6" text-anchor="middle" font-weight="bold" fill="#111" textLength="49.5" lengthAdjust="spacingAndGlyphs">E-cadherin</text>
</svg>
</body></html>
